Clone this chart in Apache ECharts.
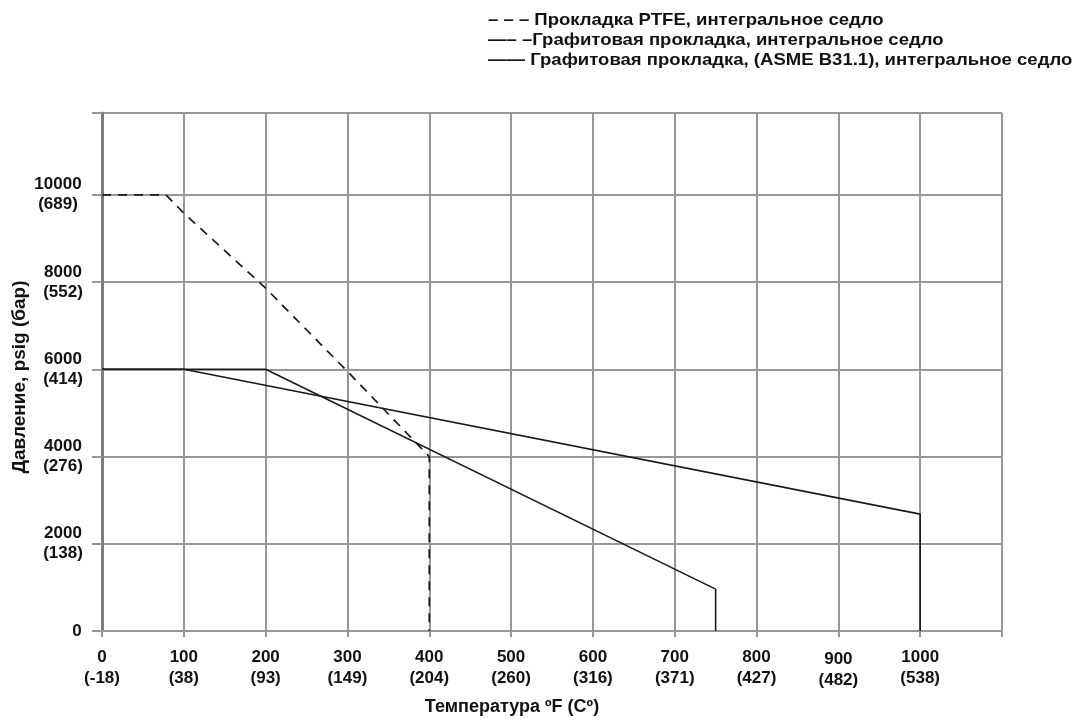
<!DOCTYPE html>
<html>
<head>
<meta charset="utf-8">
<script src="https://cdn.jsdelivr.net/npm/echarts@6/dist/echarts.min.js"></script>
<style>
html,body{margin:0;padding:0;background:#fff;}
#c{width:1082px;height:724px;}
</style>
</head>
<body>
<div id="c"></div>
<script>
// ---- data ----
var xTicks = [0, 100, 200, 300, 400, 500, 600, 700, 800, 900, 1000];
var xTicksC = ['-18', '38', '93', '149', '204', '260', '316', '371', '427', '482', '538'];
var yTicks = [0, 2000, 4000, 6000, 8000, 10000];
var yTicksBar = ['', '138', '276', '414', '552', '689'];

var ptfeTemp = [0, 78, 100, 200, 300, 400, 400];
var ptfePress = [10000, 10000, 9580, 7860, 5950, 4000, 0];

var graphiteTemp = [0, 200, 750, 750];
var graphitePress = [6000, 6000, 960, 0];

var asmeTemp = [0, 100, 1000, 1000];
var asmePress = [6000, 6000, 2680, 0];

var legendLines = [
  '– – – Прокладка PTFE, интегральное седло',
  '—– –Графитовая прокладка, интегральное седло',
  '—— Графитовая прокладка, (ASME B31.1), интегральное седло'
];
var seriesNames = [
  'Прокладка PTFE, интегральное седло',
  'Графитовая прокладка, интегральное седло',
  'Графитовая прокладка, (ASME B31.1), интегральное седло'
];
var xTitle = 'Температура ºF (Cº)';
var yTitle = 'Давление, psig (бар)';

function pairs(xs, ys) {
  var out = [];
  for (var i = 0; i < xs.length; i++) out.push([xs[i], ys[i]]);
  return out;
}

var FONT = '"Liberation Sans", Arial, sans-serif';
var gridColor = '#979797';

var chart = echarts.init(document.getElementById('c'), null, {renderer: 'canvas'});

var graphics = [];
var legendY = [20, 40, 60];
for (var i = 0; i < legendLines.length; i++) {
  graphics.push({
    type: 'text',
    x: 488, y: legendY[i], scaleX: 1.09,
    style: {
      x: 0, y: 0, text: legendLines[i],
      fill: '#111', font: 'bold 17px ' + FONT,
      align: 'left', verticalAlign: 'middle'
    }
  });
}
graphics.push({
  type: 'text',
  style: {
    x: 512, y: 707, text: xTitle, fill: '#111',
    font: 'bold 18px ' + FONT, align: 'center', verticalAlign: 'middle'
  }
});
graphics.push({
  type: 'text',
  x: 20, y: 377, rotation: Math.PI / 2,
  style: {
    x: 0, y: 0, text: yTitle, fill: '#111',
    font: 'bold 19px ' + FONT, align: 'center', verticalAlign: 'middle'
  }
});

var option = {
  backgroundColor: '#fff',
  animation: false,
  grid: {left: 102, right: 80, top: 113, bottom: 93, containLabel: false, outerBoundsMode: 'none'},
  xAxis: {
    type: 'value', min: 0, max: 1100, interval: 100,
    axisLine: {show: true, lineStyle: {color: gridColor, width: 2}},
    axisTick: {show: true, length: 6, lineStyle: {color: gridColor, width: 2}},
    splitLine: {show: true, lineStyle: {color: gridColor, width: 2}},
    axisLabel: {
      show: true, margin: 16, color: '#111',
      fontFamily: FONT, fontWeight: 'bold', fontSize: 17, lineHeight: 21,
      align: 'center',
      formatter: function (v) {
        var idx = xTicks.indexOf(v);
        if (idx < 0) return '';
        var s = xTicks[idx] + '\n(' + xTicksC[idx] + ')';
        if (xTicks[idx] === 900) return '{low|' + s + '}';
        return s;
      },
      rich: {
        low: {padding: [4, 0, 0, 0], fontFamily: FONT, fontWeight: 'bold', fontSize: 17, lineHeight: 21, color: '#111'}
      }
    }
  },
  yAxis: {
    type: 'value', min: 0, max: 11875, interval: 2000,
    axisLine: {show: true, lineStyle: {color: '#7d7d7d', width: 3}},
    axisTick: {show: true, length: 10, lineStyle: {color: gridColor, width: 2}},
    splitLine: {show: true, lineStyle: {color: gridColor, width: 2}},
    axisLabel: {
      show: true, margin: 39, color: '#111',
      fontFamily: FONT, fontWeight: 'bold', fontSize: 17, lineHeight: 20,
      align: 'center',
      formatter: function (v) {
        var idx = yTicks.indexOf(v);
        if (idx < 0) return '';
        if (yTicksBar[idx] === '') return '{z|' + yTicks[idx] + '}';
        var s = yTicks[idx] + '\n(' + yTicksBar[idx] + ')';
        if (yTicks[idx] === 10000) return '{top|' + s + '}';
        return s;
      },
      rich: {
        z: {padding: [0, 0, 0, 28], fontFamily: FONT, fontWeight: 'bold', fontSize: 17, color: '#111'},
        top: {padding: [0, 10, 0, 0], fontFamily: FONT, fontWeight: 'bold', fontSize: 17, lineHeight: 20, color: '#111'}
      }
    }
  },
  series: [
    {
      name: seriesNames[0], type: 'line', symbol: 'none', data: pairs(ptfeTemp, ptfePress),
      lineStyle: {color: '#1a1a1a', width: 1.7, type: [9, 7]}, z: 5
    },
    {
      name: seriesNames[1], type: 'line', symbol: 'none', data: pairs(graphiteTemp, graphitePress),
      lineStyle: {color: '#1a1a1a', width: 1.6}, z: 5
    },
    {
      name: seriesNames[2], type: 'line', symbol: 'none', data: pairs(asmeTemp, asmePress),
      lineStyle: {color: '#1a1a1a', width: 1.6}, z: 5
    }
  ],
  graphic: graphics
};
chart.setOption(option);
</script>
</body>
</html>
